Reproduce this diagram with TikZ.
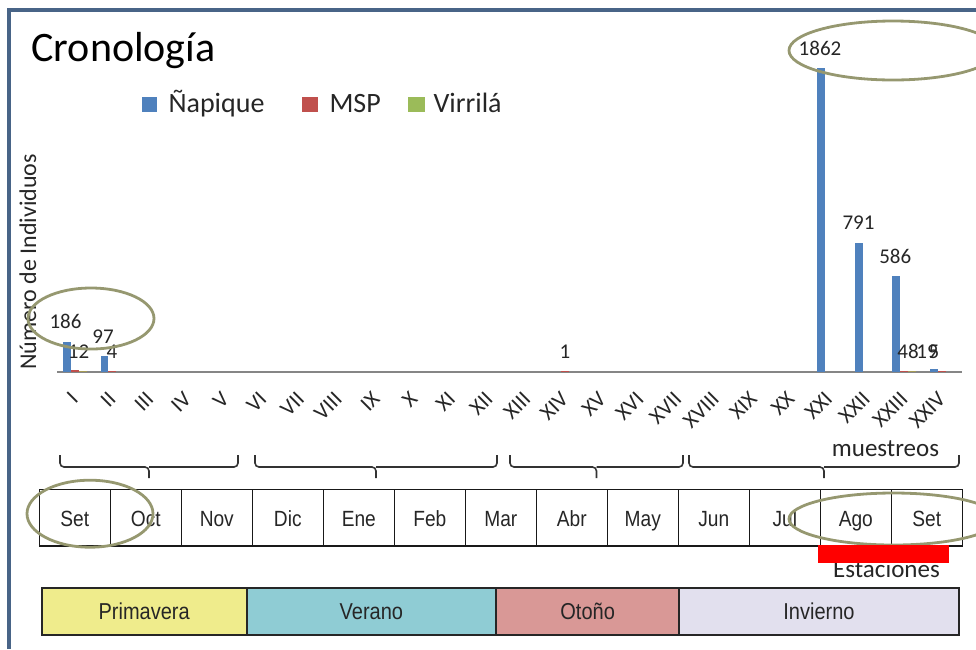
\documentclass[tikz,border=0pt]{standalone}
\usepackage{fontspec}
\setmainfont{Carlito}
\newfontfamily\narrowfont[FakeStretch=0.87]{Liberation Sans}
\usetikzlibrary{calc}
\definecolor{napique}{RGB}{79,129,189}
\definecolor{msp}{RGB}{192,80,77}
\definecolor{virrila}{RGB}{155,187,89}
\definecolor{marco}{RGB}{72,100,135}
\definecolor{ejegris}{RGB}{134,134,134}
\definecolor{anillocolor}{RGB}{150,152,112}
\definecolor{prim}{RGB}{239,236,140}
\definecolor{ver}{RGB}{143,204,212}
\definecolor{oto}{RGB}{217,152,150}
\definecolor{inv}{RGB}{226,224,238}
\tikzset{
  dato/.style={anchor=base, font=\fontsize{21}{24}\selectfont, text=black!85},
  leyenda/.style={anchor=base west, font=\fontsize{28}{30}\selectfont, text=black!85},
  romano/.style={rotate=45, anchor=east, font=\fontsize{22}{24}\selectfont, text=black!85},
  mesbox/.style={draw=black!90, line width=1.6, minimum width=71, minimum height=56.7, text height=18pt, text depth=0pt, inner sep=0pt, font=\narrowfont\fontsize{22}{24}\selectfont, text=black!85},
  estbox/.style={draw=black!85, line width=2, minimum height=46.7, text height=15.2pt, text depth=0pt, inner sep=0pt, font=\narrowfont\fontsize{23}{25}\selectfont, text=black!85},
  anillo/.style={draw=anillocolor, line width=2.8},
  llave/.style={draw=black!80, line width=1.6, rounded corners=4}
}
\begin{document}
\begin{tikzpicture}[x=1pt, y=-1pt]
\useasboundingbox (0,0) rectangle (976,649);
\draw[marco, line width=3.5] (9,649) -- (9,10) -- (976,10);
\node[anchor=base west, font=\fontsize{42}{48}\selectfont] (titulo) at (28,61) {Cronología};
\fill[napique] (142,97) rectangle (157,112);
\node[leyenda] (ley1) at (165,112) {Ñapique};
\fill[msp] (302,97) rectangle (318,112);
\node[leyenda] (ley2) at (326,112) {MSP};
\fill[virrila] (408,97) rectangle (425,112);
\node[leyenda] (ley3) at (430,112) {Virrilá};
\node[rotate=90, font=\fontsize{24}{26}\selectfont, text=black!85] (ejey) at (28,262) {Número de Individuos};
\draw[ejegris, line width=1.3] (57,372) -- (962,372);
\foreach \k/\v in {0/186, 1/97, 20/1862, 21/791, 22/586, 23/19}
  \fill[napique] ({57+\k*37.708+5.8},372) rectangle ({57+\k*37.708+13.7},{372-\v*0.1633});
\foreach \k/\v in {0/12, 1/4, 13/1, 22/4, 23/5}
  \fill[msp] ({57+\k*37.708+13.7},372) rectangle ({57+\k*37.708+21.6},{372-max(\v*0.1633,1.2)});
\foreach \k/\v in {0/1, 22/8}
  \fill[virrila!70!msp] ({57+\k*37.708+21.6},372) rectangle ({57+\k*37.708+29.5},{372-max(\v*0.1633,1.2)});
\node[dato] (v186) at (65.5,328) {186};
\node[dato] (v12) at (78.5,358) {12};
\node[dato] (v97) at (103,343) {97};
\node[dato] (v4) at (112,358) {4};
\node[dato] (v1) at (565,358) {1};
\node[dato] (v1862) at (820,55) {1862};
\node[dato] (v791) at (858.5,229) {791};
\node[dato] (v586) at (895.3,263.3) {586};
\node[dato] (v48) at (908,358) {48};
\node[dato] (v19) at (927,358) {19};
\node[dato] (v5) at (934,358) {5};
\foreach \r [count=\k from 0] in {I,II,III,IV,V,VI,VII,VIII,IX,X,XI,XII,XIII,XIV,XV,XVI,XVII,XVIII,XIX,XX,XXI,XXII,XXIII,XXIV}
  \node[romano] (r\k) at ({57+(\k+0.5)*37.708+1},393) {\r};
\node[anchor=base, font=\fontsize{25}{27}\selectfont, text=black!85] (muestreos) at (885.5,456) {muestreos};
\foreach \a/\b in {60/238, 255/497, 510/683, 689/959}
  \draw[llave] (\a,455) -- (\a,467) -- ({(\a+\b)/2},467) -- ({(\a+\b)/2},478)
    ({(\a+\b)/2},467) -- (\b,467) -- (\b,455);
\foreach \m [count=\i from 0] in {Set,Oct,Nov,Dic,Ene,Feb,Mar,Abr,May,Jun,Jul,Ago,Set}
  \node[mesbox] (mes\i) at ({74.8+\i*71},517.7) {\m};
\node[anchor=base, font=\fontsize{25}{27}\selectfont, text=black!85] (estaciones) at (886.5,577) {Estaciones};
\node[estbox, fill=prim, minimum width=205] (primavera) at (144.2,611.7) {Primavera};
\node[estbox, fill=ver, minimum width=249.3] (verano) at (371.35,611.7) {Verano};
\node[estbox, fill=oto, minimum width=183.3] (otono) at (587.65,611.7) {Otoño};
\node[estbox, fill=inv, minimum width=279.4] (invierno) at (819,611.7) {Invierno};
\draw[anillo] (91,318.5) ellipse [x radius=63, y radius=30.5];
\draw[anillo] (893,50.5) ellipse [x radius=104, y radius=29.5];
\draw[anillo] (90,513.7) ellipse [x radius=63, y radius=33.5];
\draw[anillo] (893.5,519) ellipse [x radius=104.5, y radius=26];
\fill[red] (818,545) rectangle (949,563);
\end{tikzpicture}
\end{document}
